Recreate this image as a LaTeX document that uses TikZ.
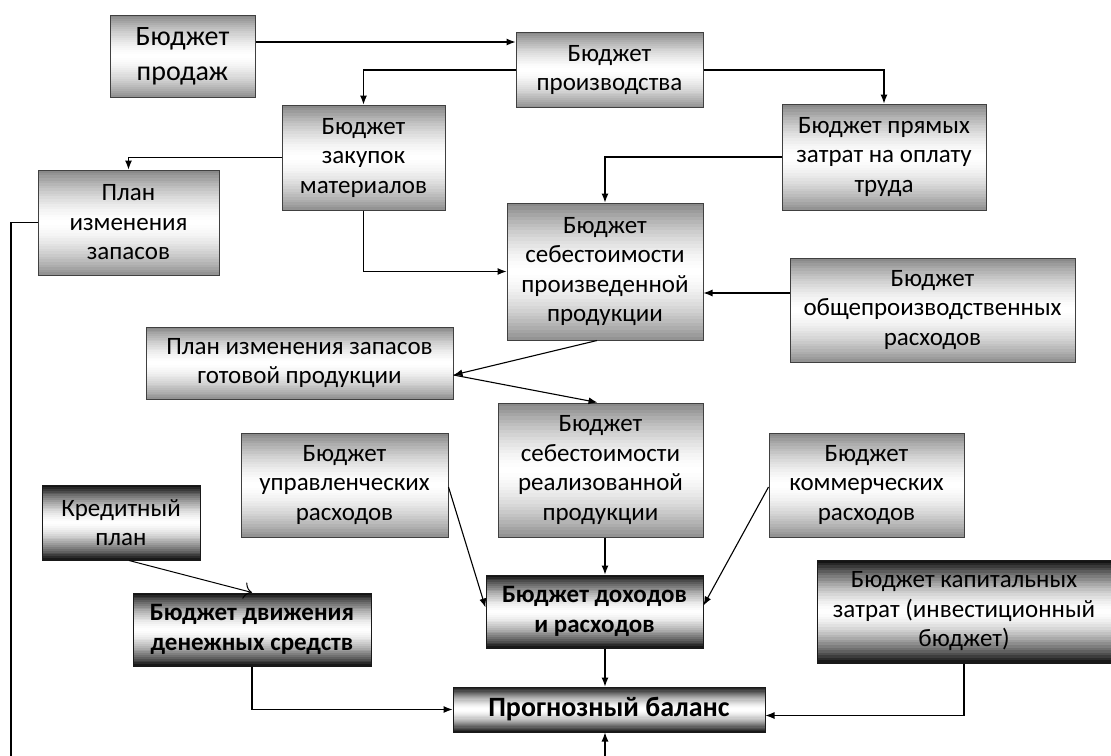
\documentclass[tikz,border=0pt]{standalone}
\usepackage{fontspec}
\setmainfont{Carlito}
\usetikzlibrary{arrows.meta,calc}

\tikzset{
  grad/.style 2 args={path picture={
    \foreach \i in {0,...,39}{
      \pgfmathsetmacro\ta{\i/40}
      \pgfmathsetmacro\tb{(\i+1.1)/40}
      \pgfmathsetmacro\pc{abs(2*(\i+0.5)/40-1)^1.6}
      \ifnum\i<20 \pgfmathsetmacro\pc{#1*\pc}\else\pgfmathsetmacro\pc{#2*\pc}\fi
      \fill[black!\pc]
        ($(path picture bounding box.north west)!\ta!(path picture bounding box.south west)$)
        rectangle
        ($(path picture bounding box.north east)!\tb!(path picture bounding box.south east)$);
    }}},
  blk/.style={draw=black!75, line width=1pt, grad={48}{44}, align=center, inner sep=0pt,
    font=\fontsize{25}{29.5}\selectfont},
  blkdark/.style={blk, draw=black!90, grad={96}{94}},
  boldtxt/.style={font=\fontsize{25}{30}\selectfont\bfseries},
  arr/.style={-{Latex[length=9pt,width=7pt]}, line width=1.1pt},
}

\begin{document}
\begin{tikzpicture}[x=1pt,y=-1pt]
\useasboundingbox (0,0) rectangle (1111,755);
\fill[white] (0,0) rectangle (1111,755);
\clip (0,0) rectangle (1111,755);

\node[blk, minimum width=145, minimum height=82, font=\fontsize{28}{35}\selectfont]
    (sales) at (182.5,56) {Бюджет\\продаж};
\node[blk, minimum width=187, minimum height=75]
    (prodn) at (609.5,70) {Бюджет\\производства};
\node[blk, minimum width=163, minimum height=105]
    (purch) at (363.5,157.5) {Бюджет\\закупок\\материалов};
\node[blk, minimum width=204, minimum height=106]
    (labor) at (884,157) {Бюджет прямых\\затрат на оплату\\труда};
\node[blk, minimum width=181, minimum height=105]
    (stock) at (128.5,222.5) {План\\изменения\\запасов};
\node[blk, minimum width=196, minimum height=137]
    (costp) at (605,271.5) {Бюджет\\себестоимости\\произведенной\\продукции};
\node[blk, minimum width=285, minimum height=104]
    (ovh) at (932.5,310) {Бюджет\\общепроизводственных\\расходов};
\node[blk, minimum width=307, minimum height=72]
    (fin) at (299.5,363) {План изменения запасов\\готовой продукции};
\node[blk, minimum width=207, minimum height=104]
    (adm) at (344.5,485) {Бюджет\\управленческих\\расходов};
\node[blk, minimum width=205, minimum height=134]
    (costs) at (600.5,470) {Бюджет\\себестоимости\\реализованной\\продукции};
\node[blk, minimum width=195, minimum height=104]
    (comm) at (866.5,485) {Бюджет\\коммерческих\\расходов};
\node[blkdark, minimum width=158, minimum height=75]
    (credit) at (121,522.5) {Кредитный\\план};
\node[blkdark, boldtxt, minimum width=238, minimum height=73]
    (cash) at (252,629.5) {Бюджет движения\\денежных средств};
\node[blkdark, boldtxt, minimum width=217, minimum height=73]
    (incexp) at (594.5,611.5) {Бюджет доходов\\и расходов};
\node[blkdark, font=\fontsize{28}{32}\selectfont\bfseries, minimum width=312, minimum height=45]
    (bal) at (609,709.5) {Прогнозный баланс};
\node[blkdark, minimum width=294, minimum height=103]
    (capex) at (964,611.5) {Бюджет капитальных\\затрат (инвестиционный\\бюджет)};

\coordinate (spine) at (605,0);

\draw[arr] ([yshift=14pt]sales.east) -- ([yshift=14pt]sales.east -| prodn.west);
\draw[arr] (prodn.west) -| (purch.north);
\draw[arr] (prodn.east) -| (labor.north);
\draw[arr] (purch.west) -| (stock.north);
\draw[arr] (purch.south) |- (costp.west);
\draw[arr] (labor.west) -| (costp.north);
\draw[arr] ([yshift=17pt]ovh.west) -- ([yshift=17pt]ovh.west -| costp.east);
\draw[arr] ([xshift=-8pt]costp.south) -- ([yshift=-12pt]fin.east);
\draw[arr] ([yshift=-12pt]fin.east) -- ([xshift=-3pt]costs.north);
\draw[arr] (costs.south -| spine) -- (incexp.north -| spine);
\draw[arr] (incexp.south -| spine) -- (bal.north -| spine);
\draw[arr] ([yshift=-2pt]adm.east) -- ([yshift=4pt]incexp.west);
\draw[arr] ([yshift=-2pt]comm.west) -- ([yshift=6pt]incexp.east);
\draw[-{To[length=8pt]}, line width=1pt] ([xshift=8pt]credit.south) -- (cash.north);
\draw[arr] (cash.south) |- (bal.west);
\draw[arr] (capex.south) |- ([yshift=-6pt]bal.east);
\draw[arr] (stock.west) -| (11,780) -| (bal.south -| spine);
\end{tikzpicture}
\end{document}
